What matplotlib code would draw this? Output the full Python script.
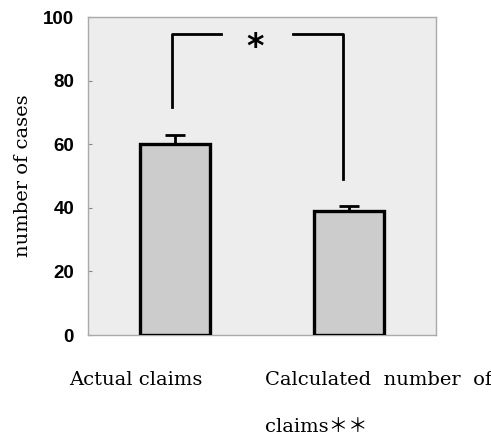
import matplotlib
matplotlib.use("Agg")
import matplotlib.pyplot as plt

categories = ["Actual claims", "Calculated number of\n\nclaims\uff0a\uff0a"]
values = [60, 39]
errors = [2.8, 1.5]
yticks = [0, 20, 40, 60, 80, 100]

fig = plt.figure(figsize=(4.91, 4.37), dpi=100)
ax = fig.add_axes([88/491, 1-335/437, 348/491, 318/437])
ax.set_facecolor("#ededed")
x = [0, 1]
ax.bar(x, values, width=0.40, color="#cccccc", edgecolor="black", linewidth=2.4, zorder=3)
ax.errorbar(x, values, yerr=[[0, 0], errors], fmt="none", ecolor="black",
            elinewidth=2, capsize=7, capthick=2, zorder=2)
ax.set_xlim(-0.5, 1.5)
ax.set_ylim(0, 100)
ax.set_yticks(yticks)
ax.set_yticklabels([str(t) for t in yticks], fontfamily="Liberation Sans",
                   fontweight="bold", fontsize=13.5)
ax.tick_params(axis="y", direction="in", length=3, color="#888888", pad=10)
ax.set_xticks([])
for s in ax.spines.values():
    s.set_color("#aaaaaa")
    s.set_linewidth(1)
ax.set_ylabel("number of cases", fontfamily="DejaVu Serif", fontsize=14, labelpad=8)

# significance bracket
ax.plot([-0.017, -0.017, 0.265], [71.7, 94.7, 94.7], color="black", lw=2, zorder=4)
ax.plot([0.68, 0.963, 0.963], [94.7, 94.7, 49], color="black", lw=2, zorder=4)
ax.text(0.46, 90.5, "*", ha="center", va="center", fontsize=24, fontweight="bold",
        fontfamily="DejaVu Sans")

fs = 14
fig.text(136/491, 1-380/437, categories[0], ha="center", va="center",
         fontfamily="DejaVu Serif", fontsize=fs)
lines = categories[1].split("\n\n")
fig.text(265/491, 1-380/437, lines[0].replace(" ", "  "), ha="left", va="center",
         fontfamily="DejaVu Serif", fontsize=fs)
fig.text(265/491, 1-427/437, lines[1], ha="left", va="center",
         fontfamily=["DejaVu Serif", "Noto Sans CJK JP"], fontsize=fs)

fig.savefig("out.png", dpi=100)
